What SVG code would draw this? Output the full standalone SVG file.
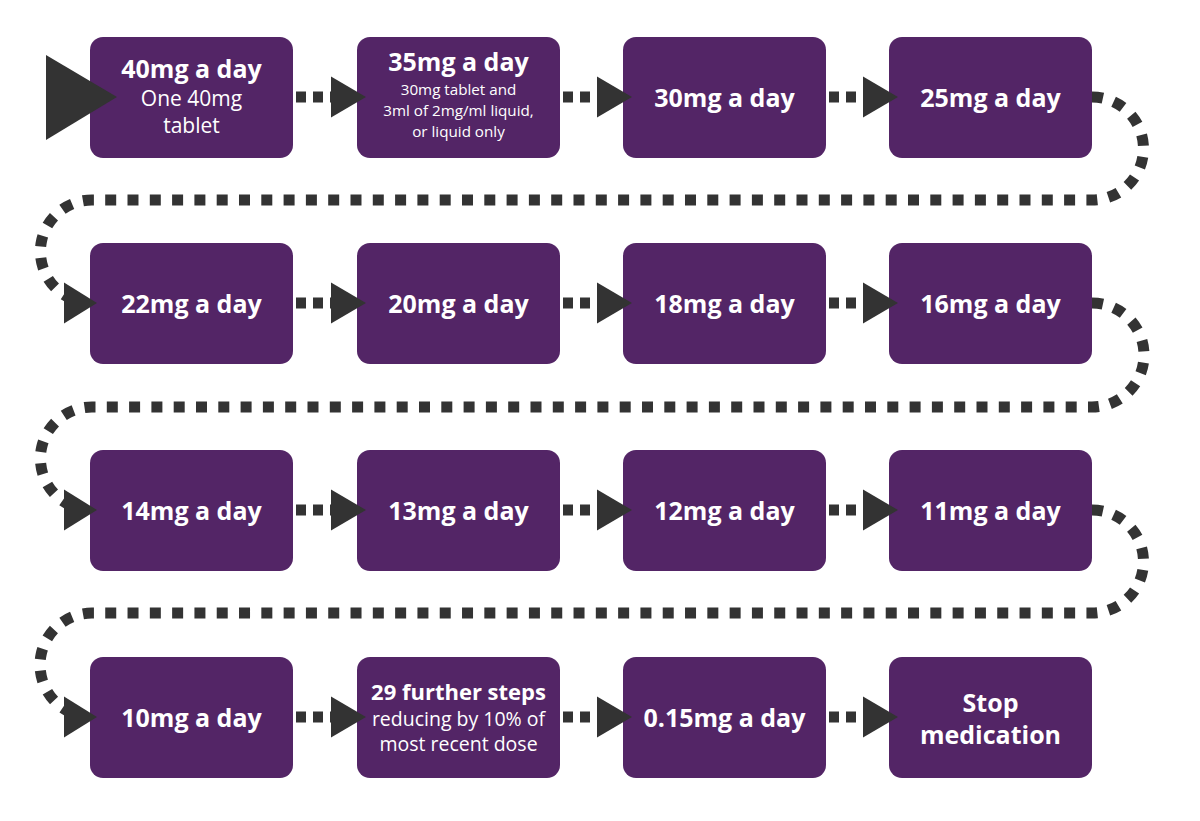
<svg xmlns="http://www.w3.org/2000/svg" width="1200" height="821" viewBox="0 0 1200 821">
<style>
.box{fill:#532566}
.t{fill:#ffffff;font-family:"Open Sans","Liberation Sans",sans-serif;text-anchor:middle}
.b{font-weight:700;font-size:25px}
.r{font-weight:400}
.dots{fill:none;stroke:#333333;stroke-width:11;stroke-dasharray:10 7}
.ret{fill:none;stroke:#333333;stroke-width:11;stroke-dasharray:11 11.3}
.ah{fill:#333333}
</style>
<rect width="1200" height="821" fill="#ffffff"/>
<g id="n1"><rect class="box" x="90" y="37" width="203" height="121" rx="13"/><text class="t b" x="191.5" y="78">40mg a day</text><text class="t r" x="191.5" y="106" font-size="21">One 40mg</text><text class="t r" x="191.5" y="133" font-size="21">tablet</text></g>
<g id="n2"><rect class="box" x="357" y="37" width="203" height="121" rx="13"/><text class="t b" x="458.5" y="71">35mg a day</text><text class="t r" x="458.5" y="94.5" font-size="15.2">30mg tablet and</text><text class="t r" x="458.5" y="115.5" font-size="15.2">3ml of 2mg/ml liquid,</text><text class="t r" x="458.5" y="136.5" font-size="15.2">or liquid only</text></g>
<g id="n3"><rect class="box" x="623" y="37" width="203" height="121" rx="13"/><text class="t b" x="724.5" y="107">30mg a day</text></g>
<g id="n4"><rect class="box" x="889" y="37" width="203" height="121" rx="13"/><text class="t b" x="990.5" y="107">25mg a day</text></g>
<g id="n5"><rect class="box" x="90" y="243" width="203" height="121" rx="13"/><text class="t b" x="191.5" y="313">22mg a day</text></g>
<g id="n6"><rect class="box" x="357" y="243" width="203" height="121" rx="13"/><text class="t b" x="458.5" y="313">20mg a day</text></g>
<g id="n7"><rect class="box" x="623" y="243" width="203" height="121" rx="13"/><text class="t b" x="724.5" y="313">18mg a day</text></g>
<g id="n8"><rect class="box" x="889" y="243" width="203" height="121" rx="13"/><text class="t b" x="990.5" y="313">16mg a day</text></g>
<g id="n9"><rect class="box" x="90" y="450" width="203" height="121" rx="13"/><text class="t b" x="191.5" y="520">14mg a day</text></g>
<g id="n10"><rect class="box" x="357" y="450" width="203" height="121" rx="13"/><text class="t b" x="458.5" y="520">13mg a day</text></g>
<g id="n11"><rect class="box" x="623" y="450" width="203" height="121" rx="13"/><text class="t b" x="724.5" y="520">12mg a day</text></g>
<g id="n12"><rect class="box" x="889" y="450" width="203" height="121" rx="13"/><text class="t b" x="990.5" y="520">11mg a day</text></g>
<g id="n13"><rect class="box" x="90" y="657" width="203" height="121" rx="13"/><text class="t b" x="191.5" y="727">10mg a day</text></g>
<g id="n14"><rect class="box" x="357" y="657" width="203" height="121" rx="13"/><text class="t b" x="458.5" y="700" style="font-size:22px">29 further steps</text><text class="t r" x="458.5" y="726" font-size="19.5">reducing by 10% of</text><text class="t r" x="458.5" y="751" font-size="19.5">most recent dose</text></g>
<g id="n15"><rect class="box" x="623" y="657" width="203" height="121" rx="13"/><text class="t b" x="724.5" y="727">0.15mg a day</text></g>
<g id="n16"><rect class="box" x="889" y="657" width="203" height="121" rx="13"/><text class="t b" x="990.5" y="712">Stop</text><text class="t b" x="990.5" y="744">medication</text></g>
<g id="connectors">
<polygon class="ah" points="46,55 117,97 46,140"/>
<path class="dots" d="M296 97H336M563 97H602M829 97H868"/>
<path class="dots" d="M296 303H336M563 303H602M829 303H868"/>
<path class="dots" d="M296 510H336M563 510H602M829 510H868"/>
<path class="dots" d="M296 717H336M563 717H602M829 717H868"/>
<path class="ret" d="M1092 97A51.5 51.5 0 0 1 1092 200H92A51.5 51.5 0 0 0 70 298.1"/>
<path class="ret" d="M1092 303A52 52 0 0 1 1092 407H92A51.5 51.5 0 0 0 70 505.1"/>
<path class="ret" d="M1092 510A51.5 51.5 0 0 1 1092 613H92A52 52 0 0 0 70 712.1"/>
<g class="ah">
<polygon points="331,76.5 366,97 331,117.5"/><polygon points="597,76.5 632,97 597,117.5"/><polygon points="863,76.5 898,97 863,117.5"/>
<polygon points="64,282.5 97,303 64,323.5"/><polygon points="331,282.5 366,303 331,323.5"/><polygon points="597,282.5 632,303 597,323.5"/><polygon points="863,282.5 898,303 863,323.5"/>
<polygon points="64,489.5 97,510 64,530.5"/><polygon points="331,489.5 366,510 331,530.5"/><polygon points="597,489.5 632,510 597,530.5"/><polygon points="863,489.5 898,510 863,530.5"/>
<polygon points="64,696.5 97,717 64,737.5"/><polygon points="331,696.5 366,717 331,737.5"/><polygon points="597,696.5 632,717 597,737.5"/><polygon points="863,696.5 898,717 863,737.5"/>
</g>
</g>
</svg>
